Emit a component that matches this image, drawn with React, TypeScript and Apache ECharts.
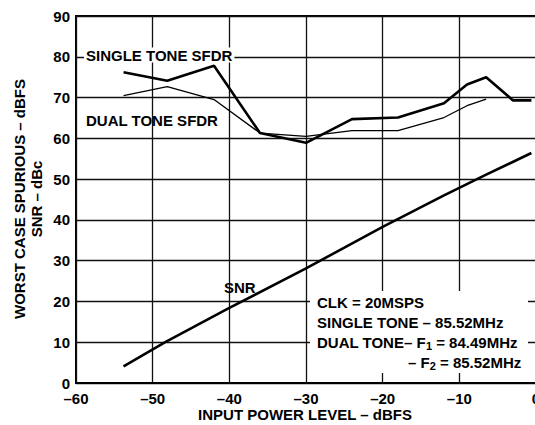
import React, { useEffect, useRef } from "react";
import * as echarts from "echarts";

const xTicks = [-60, -50, -40, -30, -20, -10, 0];
const yTicks = [0, 10, 20, 30, 40, 50, 60, 70, 80, 90];

const singleToneSFDR: [number, number][] = [
  [-53.8, 76.2], [-48.1, 74.1], [-42.0, 77.8], [-36.0, 61.3], [-30.0, 58.9],
  [-24.0, 64.7], [-18.0, 65.1], [-12.0, 68.6], [-9.0, 73.2], [-6.5, 75.0],
  [-3.0, 69.3], [-0.6, 69.3],
];
const dualToneSFDR: [number, number][] = [
  [-53.8, 70.5], [-48.1, 72.7], [-42.0, 69.5], [-36.0, 61.3], [-30.0, 60.5],
  [-24.0, 61.9], [-18.0, 61.9], [-12.0, 65.1], [-9.0, 68.0], [-6.5, 69.6],
];
const snr: [number, number][] = [
  [-53.8, 4.1], [-48.3, 10.1], [-40.0, 18.4], [-30.0, 28.1], [-20.0, 38.3],
  [-12.0, 46.0], [-6.5, 51.1], [-0.6, 56.4],
];

const FONT = "'Liberation Sans', Arial, sans-serif";
const FS = 15;
const dash = (v: number) => String(v).replace("-", "–");

export default function App() {
  const ref = useRef<HTMLDivElement>(null);
  useEffect(() => {
    if (!ref.current) return;
    const chart = echarts.init(ref.current, undefined, { renderer: "svg" });
    const txt = (text: string, x: number, y: number, extra: any = {}) => ({
      type: "text",
      x,
      y,
      z: 10,
      style: {
        text,
        fill: "#000",
        font: `bold ${FS}px ${FONT}`,
        textVerticalAlign: "middle",
        ...extra,
      },
    });
    const sub = { s: { font: `bold 11px ${FONT}`, fill: "#000", padding: [7, 0, 0, 0] } };
    chart.setOption({
      animation: false,
      backgroundColor: "#fff",
      grid: {
        left: 76,
        top: 16,
        width: 460,
        height: 367,
        show: true,
        borderColor: "#000",
        borderWidth: 2,
        outerBoundsMode: "none",
        containLabel: false,
      },
      xAxis: {
        type: "value",
        min: xTicks[0],
        max: xTicks[xTicks.length - 1],
        interval: 10,
        axisLine: { show: true, onZero: false, lineStyle: { color: "#000", width: 2 } },
        axisTick: { show: false },
        splitLine: { show: true, lineStyle: { color: "#111", width: 1.3 } },
        axisLabel: {
          color: "#000",
          fontFamily: FONT,
          fontWeight: "bold",
          fontSize: FS,
          margin: 8,
          formatter: (v: number) => dash(v),
        },
      },
      yAxis: {
        type: "value",
        min: yTicks[0],
        max: yTicks[yTicks.length - 1],
        interval: 10,
        axisLine: { show: true, lineStyle: { color: "#000", width: 2 } },
        axisTick: { show: false },
        splitLine: { show: true, lineStyle: { color: "#111", width: 1.3 } },
        axisLabel: {
          color: "#000",
          fontFamily: FONT,
          fontWeight: "bold",
          fontSize: FS,
          margin: 6,
        },
      },
      series: [
        {
          name: "SINGLE TONE SFDR",
          type: "line",
          data: singleToneSFDR,
          showSymbol: false,
          lineStyle: { color: "#000", width: 2.6 },
          z: 3,
        },
        {
          name: "DUAL TONE SFDR",
          type: "line",
          data: dualToneSFDR,
          showSymbol: false,
          lineStyle: { color: "#000", width: 1.3 },
          z: 3,
        },
        {
          name: "SNR",
          type: "line",
          data: snr,
          showSymbol: false,
          lineStyle: { color: "#000", width: 2.6 },
          z: 3,
        },
      ],
      graphic: [
        {
          type: "rect",
          z: 5,
          shape: { x: 310, y: 291, width: 218, height: 82 },
          style: { fill: "#fff" },
        },
        txt("SINGLE TONE SFDR", 84, 55, { backgroundColor: "#fff", padding: [0, 2] }),
        txt("DUAL TONE SFDR", 86, 120),
        txt("SNR", 224, 287),
        txt("CLK = 20MSPS", 317, 302),
        txt("SINGLE TONE – 85.52MHz", 317, 322),
        {
          type: "text",
          x: 317,
          y: 342,
          z: 10,
          style: {
            text: "DUAL TONE– F{s|1} = 84.49MHz",
            fill: "#000",
            font: `bold ${FS}px ${FONT}`,
            textVerticalAlign: "middle",
            rich: sub,
          },
        },
        {
          type: "text",
          x: 408,
          y: 362,
          z: 10,
          style: {
            text: "– F{s|2} = 85.52MHz",
            fill: "#000",
            font: `bold ${FS}px ${FONT}`,
            textVerticalAlign: "middle",
            rich: sub,
          },
        },
        {
          type: "text",
          x: 28,
          y: 199,
          rotation: Math.PI / 2,
          z: 10,
          style: {
            text: "WORST CASE SPURIOUS – dBFS\nSNR – dBc",
            fill: "#000",
            font: `bold ${FS}px ${FONT}`,
            textAlign: "center",
            textVerticalAlign: "middle",
            lineHeight: 17,
          },
        },
        txt("INPUT POWER LEVEL – dBFS", 305, 414, { textAlign: "center" }),
      ],
    });
    return () => chart.dispose();
  }, []);
  return (
    <div
      ref={ref}
      style={{ position: "fixed", left: 0, top: 0, width: 535, height: 425 }}
    />
  );
}
